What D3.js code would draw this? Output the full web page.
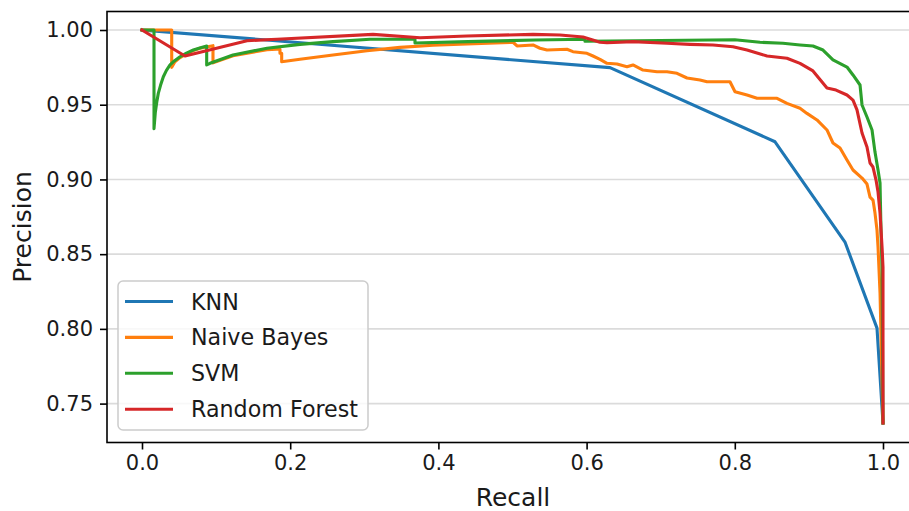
<!DOCTYPE html>
<html>
<head>
<meta charset="utf-8">
<script src="https://cdn.jsdelivr.net/npm/d3@7"></script>
<style>
  html, body { margin: 0; padding: 0; background: #fff; }
  svg { display: block; }
  text { font-family: "DejaVu Sans", sans-serif; fill: #1a1a1a; }
</style>
</head>
<body>
<svg id="chart" width="909" height="511"></svg>
<script>
// ---- data (recall, precision) ----
const seriesNames = ["KNN", "Naive Bayes", "SVM", "Random Forest"];
const recallTicks = [0.0, 0.2, 0.4, 0.6, 0.8, 1.0];
const recallTickLabels = ["0.0", "0.2", "0.4", "0.6", "0.8", "1.0"];
const precisionTicks = [0.75, 0.80, 0.85, 0.90, 0.95, 1.00];
const precisionTickLabels = ["0.75", "0.80", "0.85", "0.90", "0.95", "1.00"];

const knnPoints = [[0,1],[0.6316,0.9748],[0.8543,0.9252],[0.9487,0.8581],[0.9919,0.8005],[1.0,0.737]];

const nbPoints = [[0,1],[0.0401,1],[0.0401,0.975],[0.044,0.9785],[0.0513,0.9815],[0.06,0.984],[0.0693,0.9862],[0.078,0.9878],[0.0958,0.9895],[0.0958,0.978],[0.1228,0.9828],[0.1687,0.9868],[0.1818,0.9871],[0.1862,0.9871],[0.1862,0.9844],[0.1885,0.9844],[0.1885,0.9788],[0.2132,0.9804],[0.2578,0.9833],[0.3036,0.9861],[0.3482,0.9884],[0.3927,0.9898],[0.4386,0.9906],[0.5007,0.9918],[0.5061,0.9893],[0.5277,0.99],[0.5371,0.9878],[0.5466,0.9866],[0.5735,0.9871],[0.5816,0.9855],[0.6005,0.9844],[0.6086,0.9826],[0.6181,0.9804],[0.6275,0.9777],[0.641,0.9772],[0.6545,0.9754],[0.6626,0.9766],[0.6761,0.9732],[0.695,0.9721],[0.7085,0.9721],[0.722,0.971],[0.7355,0.9679],[0.753,0.9665],[0.7625,0.9654],[0.7935,0.9654],[0.8003,0.9587],[0.8165,0.9565],[0.83,0.9543],[0.857,0.9543],[0.8704,0.9509],[0.888,0.9476],[0.8974,0.9442],[0.9109,0.9398],[0.9244,0.9331],[0.9325,0.9244],[0.942,0.921],[0.9514,0.913],[0.9595,0.9063],[0.9717,0.9009],[0.9784,0.8969],[0.9825,0.8882],[0.9865,0.8862],[0.9892,0.8775],[0.9919,0.8661],[0.9933,0.8548],[0.996,0.824],[1.0,0.737]];

const svmPoints = [[0,1],[0.0162,1],[0.0162,0.934],[0.018,0.945],[0.020,0.952],[0.022,0.9576],[0.025,0.963],[0.0288,0.9687],[0.033,0.973],[0.0378,0.9766],[0.044,0.9795],[0.0513,0.9821],[0.060,0.9845],[0.0693,0.9866],[0.078,0.988],[0.0873,0.9893],[0.0873,0.9766],[0.0918,0.9777],[0.1228,0.9833],[0.1687,0.9878],[0.2132,0.9904],[0.2578,0.9922],[0.3077,0.9938],[0.3684,0.9938],[0.3684,0.9913],[0.4399,0.9922],[0.5304,0.9933],[0.5978,0.9938],[0.5978,0.9925],[0.700,0.9930],[0.800,0.9935],[0.834,0.9918],[0.865,0.9911],[0.888,0.99],[0.9055,0.9893],[0.919,0.9866],[0.9325,0.980],[0.9514,0.9752],[0.9595,0.9699],[0.969,0.9632],[0.9717,0.9498],[0.9784,0.9418],[0.9852,0.9331],[0.9892,0.9183],[0.9933,0.9063],[0.996,0.8976],[0.9973,0.8661],[0.9987,0.8407],[1.0,0.737]];

const rfPoints = [[0,1],[0.058,0.9826],[0.1417,0.9928],[0.1822,0.9938],[0.3117,0.9971],[0.3752,0.9948],[0.4386,0.996],[0.5277,0.9971],[0.5641,0.9967],[0.5951,0.9953],[0.6181,0.9918],[0.6275,0.9915],[0.6626,0.9922],[0.7085,0.9911],[0.7395,0.9904],[0.7706,0.99],[0.7976,0.9888],[0.8165,0.9866],[0.8435,0.9826],[0.8704,0.9811],[0.888,0.9777],[0.9055,0.9726],[0.9244,0.9612],[0.9366,0.9598],[0.9514,0.9565],[0.9595,0.9531],[0.9649,0.9465],[0.9717,0.9311],[0.9784,0.9217],[0.9825,0.911],[0.9865,0.9083],[0.9906,0.8996],[0.9933,0.8916],[0.996,0.8775],[0.9987,0.8548],[1.0,0.8414],[1.0,0.737]];

const seriesData = [knnPoints, nbPoints, svmPoints, rfPoints];
const colors = ["#1f77b4", "#ff7f0e", "#2ca02c", "#d62728"];

// ---- layout ----
const svg = d3.select("#chart");
const plot = { left: 107, top: 11.5, right: 920, bottom: 442.5 };

const x = d3.scaleLinear().domain([0, 1]).range([142, 883]);
const y = d3.scaleLinear().domain([0.75, 1.0]).range([403.6, 30]);

svg.append("defs").append("clipPath").attr("id", "clip")
  .append("rect")
  .attr("x", plot.left).attr("y", plot.top)
  .attr("width", plot.right - plot.left).attr("height", plot.bottom - plot.top);

// grid (horizontal only)
svg.append("g").selectAll("line").data(precisionTicks).join("line")
  .attr("x1", plot.left).attr("x2", plot.right)
  .attr("y1", d => y(d)).attr("y2", d => y(d))
  .attr("stroke", "#b0b0b0").attr("stroke-opacity", 0.45).attr("stroke-width", 1.6);

// lines
const line = d3.line().x(d => x(d[0])).y(d => y(d[1]));
svg.append("g").attr("clip-path", "url(#clip)")
  .selectAll("path").data(seriesData).join("path")
  .attr("d", d => line(d))
  .attr("fill", "none")
  .attr("stroke", (d, i) => colors[i])
  .attr("stroke-width", 3.1)
  .attr("stroke-linejoin", "round")
  .attr("stroke-linecap", "square");

// frame
svg.append("rect")
  .attr("x", plot.left).attr("y", plot.top)
  .attr("width", plot.right - plot.left).attr("height", plot.bottom - plot.top)
  .attr("fill", "none").attr("stroke", "#000").attr("stroke-width", 1.6);

// x axis
const xAxis = d3.axisBottom(x).tickValues(recallTicks)
  .tickFormat((d, i) => recallTickLabels[i]).tickSize(7).tickPadding(6);
const gx = svg.append("g").attr("transform", `translate(0,${plot.bottom})`).call(xAxis);
gx.select(".domain").remove();
gx.selectAll(".tick line").attr("stroke", "#000").attr("stroke-width", 1.6);
gx.selectAll(".tick text").attr("font-size", 21).attr("font-family", "DejaVu Sans").attr("fill", "#1a1a1a");

// y axis
const yAxis = d3.axisLeft(y).tickValues(precisionTicks)
  .tickFormat((d, i) => precisionTickLabels[i]).tickSize(7).tickPadding(7);
const gy = svg.append("g").attr("transform", `translate(${plot.left},0)`).call(yAxis);
gy.select(".domain").remove();
gy.selectAll(".tick line").attr("stroke", "#000").attr("stroke-width", 1.6);
gy.selectAll(".tick text").attr("font-size", 21).attr("font-family", "DejaVu Sans").attr("fill", "#1a1a1a");

// axis labels
svg.append("text").attr("x", (142 + 883) / 2 + 0.5).attr("y", 506)
  .attr("text-anchor", "middle").attr("font-size", 25).text("Recall");
svg.append("text")
  .attr("transform", `translate(31,${(plot.top + plot.bottom) / 2}) rotate(-90)`)
  .attr("text-anchor", "middle").attr("font-size", 25).text("Precision");

// legend
const lg = svg.append("g");
lg.append("rect").attr("x", 118).attr("y", 281).attr("width", 250).attr("height", 149)
  .attr("rx", 5).attr("fill", "#fff").attr("fill-opacity", 0.8)
  .attr("stroke", "#cccccc").attr("stroke-width", 1.5);
seriesNames.forEach((name, i) => {
  const cy = 301.5 + i * 35.9;
  lg.append("line").attr("x1", 125).attr("x2", 173).attr("y1", cy).attr("y2", cy)
    .attr("stroke", colors[i]).attr("stroke-width", 3.1);
  lg.append("text").attr("x", 191).attr("y", cy + 8).attr("font-size", 22.2).text(name);
});
</script>
</body>
</html>
